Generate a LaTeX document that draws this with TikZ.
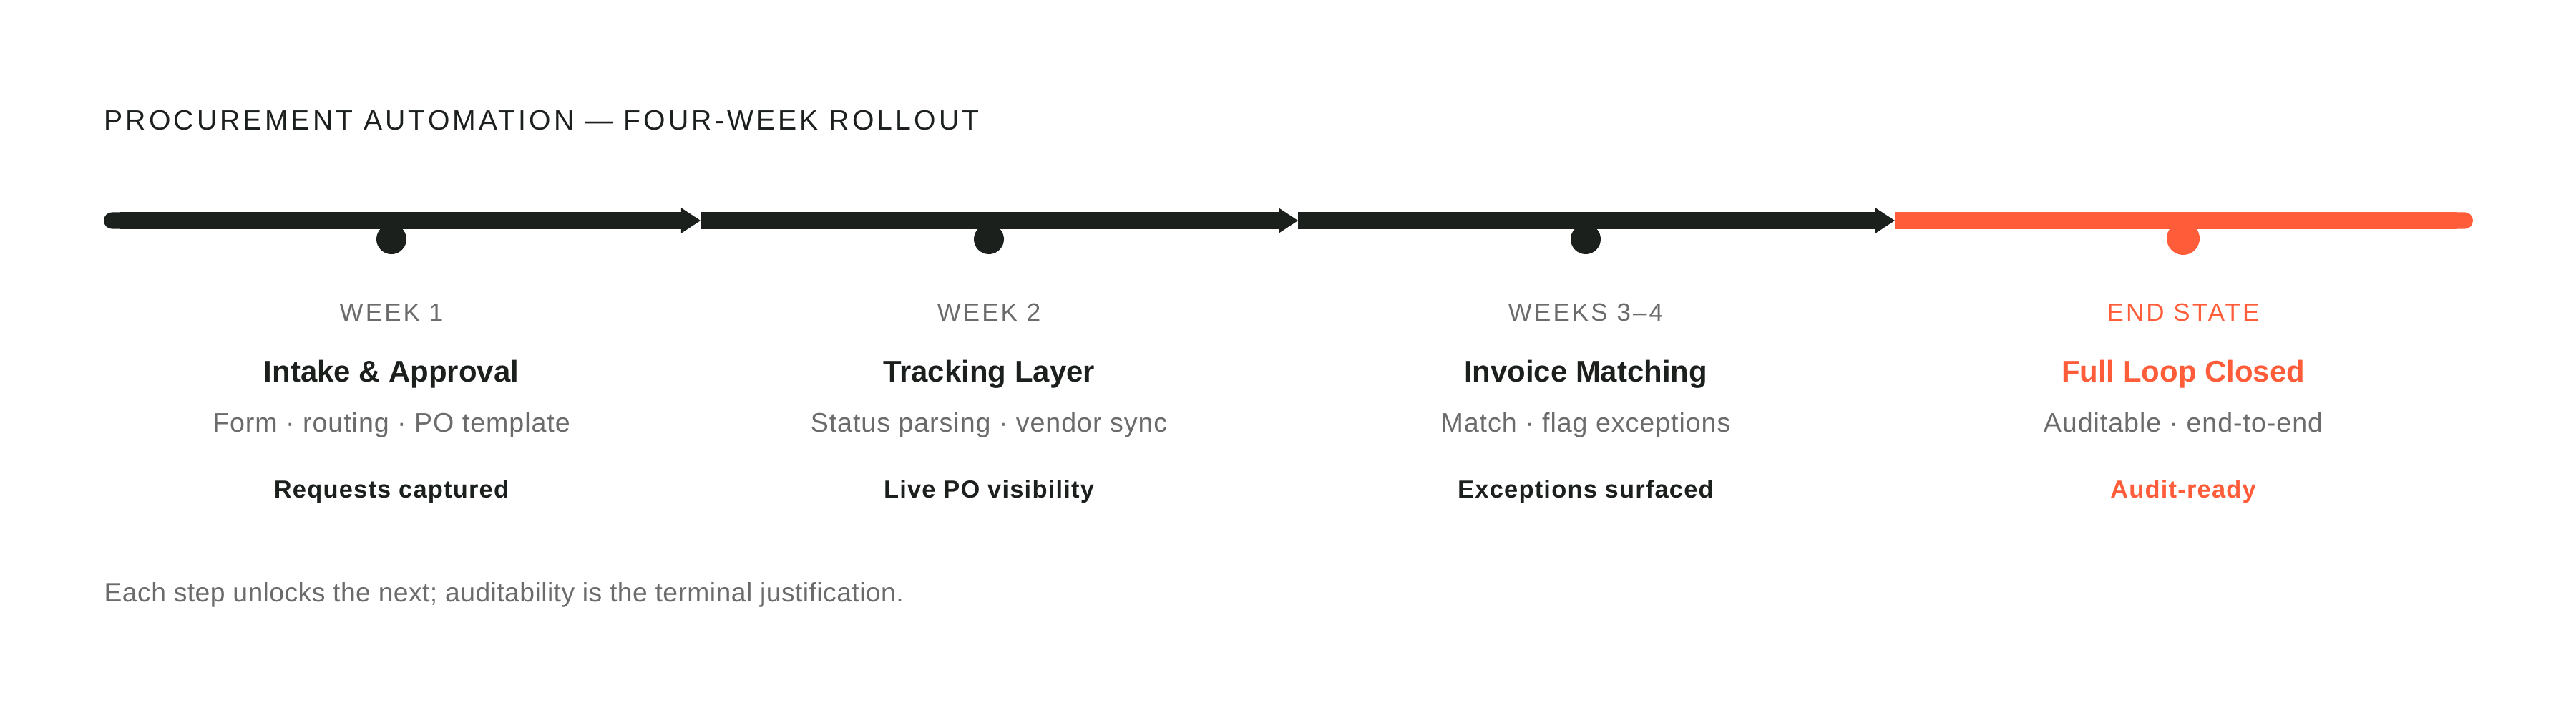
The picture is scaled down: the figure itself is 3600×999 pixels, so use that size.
\documentclass[tikz,border=0pt]{standalone}
\usepackage{fontspec}
\setmainfont{Liberation Sans}
\usepackage{tikz}
\usetikzlibrary{arrows.meta}
\definecolor{inkdark}{HTML}{1C201D}
\definecolor{mutedgray}{HTML}{6B6B6B}
\definecolor{endorange}{HTML}{FF5C39}

\begin{document}
\begin{tikzpicture}[line join=round,x=0.01cm,y=-0.01cm,
  bar/.style={line width=0.233cm,color=inkdark},
  steptip/.style={-{Triangle[length=0.27cm,width=0.355cm,line width=0pt]}},
  dot/.style={circle,fill=inkdark,inner sep=0pt,minimum size=0.42cm},
  txt/.style={inner sep=0pt,anchor=base},
  weeklbl/.style={txt,text=mutedgray,font=\fontsize{9.93}{12}\selectfont\addfontfeature{LetterSpace=9}},
  headlbl/.style={txt,text=inkdark,font=\fontsize{11.92}{14}\selectfont\bfseries},
  sublbl/.style={txt,text=mutedgray,font=\fontsize{10.7}{13}\selectfont\addfontfeature{LetterSpace=2.5}},
  outlbl/.style={txt,text=inkdark,font=\fontsize{9.8}{12}\selectfont\bfseries\addfontfeature{LetterSpace=3.5}}]
\useasboundingbox (0,0) rectangle (3600,999);
% title
\node[inner sep=0pt,anchor=base west,text=inkdark,font=\fontsize{11.13}{13}\selectfont\addfontfeature{LetterSpace=10.5}] (title) at (145,181) {PROCUREMENT AUTOMATION — FOUR-WEEK ROLLOUT};
% milestone dots
\node[dot] (dot1) at (547,334) {};
\node[dot] (dot2) at (1382,334) {};
\node[dot] (dot3) at (2216,334) {};
\node[dot,fill=endorange,minimum size=0.46cm] (dot4) at (3051,333) {};
% the bar
\coordinate (s0) at (145,308);
\coordinate (s1) at (979,308);
\coordinate (s2) at (1814,308);
\coordinate (s3) at (2648,308);
\coordinate (s4) at (3456,308);
\draw [bar,{Round Cap}-{Triangle[length=0.27cm,width=0.355cm,line width=0pt]}] (s0) -- (s1);
\draw [bar,steptip] (s1) -- (s2);
\draw [bar,steptip] (s2) -- (s3);
\draw [bar,color=endorange,-{Round Cap}] (s3) -- (s4);
% week 1
\node[weeklbl] (wk1) at (547,448) {WEEK 1};
\node[headlbl] (hd1) at (547,533) {Intake \& Approval};
\node[sublbl] (sb1) at (547,603) {Form · routing · PO template};
\node[outlbl] (ot1) at (547,695) {Requests captured};
% week 2
\node[weeklbl] (wk2) at (1382,448) {WEEK 2};
\node[headlbl] (hd2) at (1382,533) {Tracking Layer};
\node[sublbl] (sb2) at (1382,603) {Status parsing · vendor sync};
\node[outlbl] (ot2) at (1382,695) {Live PO visibility};
% weeks 3-4
\node[weeklbl] (wk3) at (2216,448) {WEEKS 3–4};
\node[headlbl] (hd3) at (2216,533) {Invoice Matching};
\node[sublbl] (sb3) at (2216,603) {Match · flag exceptions};
\node[outlbl] (ot3) at (2216,695) {Exceptions surfaced};
% end state
\node[weeklbl,text=endorange] (wk4) at (3051,448) {END STATE};
\node[headlbl,text=endorange] (hd4) at (3051,533) {Full Loop Closed};
\node[sublbl] (sb4) at (3051,603) {Auditable · end-to-end};
\node[outlbl,text=endorange] (ot4) at (3051,695) {Audit-ready};
% footnote
\node[inner sep=0pt,anchor=base west,text=mutedgray,font=\fontsize{10.6}{13}\selectfont\addfontfeature{LetterSpace=1.2}] (note) at (145,840) {Each step unlocks the next; auditability is the terminal justification.};
\end{tikzpicture}
\end{document}
